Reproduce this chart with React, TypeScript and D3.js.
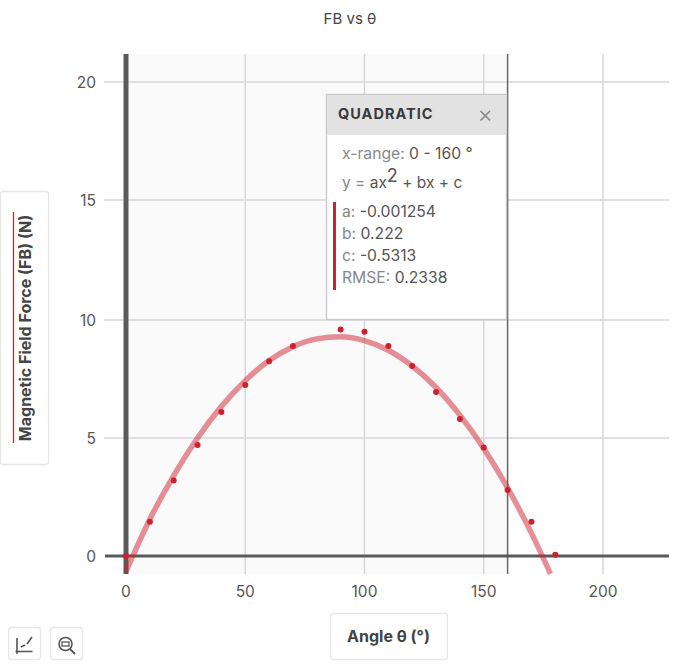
import React from "react";
import * as d3 from "d3";

const FONT = "Inter, 'Noto Sans', sans-serif";
const W = 700, H = 665;
const xTicks = [0, 50, 100, 150, 200];
const yTicks = [0, 5, 10, 15, 20];
const pointX = [0, 10, 20, 30, 40, 50, 60, 70, 90, 100, 110, 120, 130, 140, 150, 160, 170, 180];
const pointY = [0, 1.45, 3.2, 4.7, 6.1, 7.25, 8.25, 8.9, 9.6, 9.5, 8.9, 8.05, 6.95, 5.8, 4.6, 2.8, 1.45, 0.05];
const fitX = [0, 10, 20, 30, 40, 50, 60, 70, 80, 90, 100, 110, 120, 130, 140, 150, 160, 170, 178];
const fitY = [-0.65, 1.56, 3.41, 5.0, 6.34, 7.43, 8.28, 8.87, 9.2, 9.29, 9.13, 8.72, 8.05, 7.14, 5.97, 4.56, 2.89, 0.97, -0.76];
const rangeX = [0, 160];
const panelLines = [
  ["a: ", "-0.001254"],
  ["b: ", "0.222"],
  ["c: ", "-0.5313"],
  ["RMSE: ", "0.2338"],
];

const x = d3.scaleLinear().domain([0, 200]).range([126, 603]);
const y = d3.scaleLinear().domain([0, 5, 10, 15, 20]).range([556, 438, 320, 200, 82]);
const line = d3.line<number>().x((d) => x(d)).y((_, i) => y(fitY[i])).curve(d3.curveMonotoneX);

const PR = 669, PT = 54, PB = 574;
const GRID = "#d6d6d6", AXIS = "#5a5a5a", TXT = "#555", RED = "#cf2030";

export default function App() {
  return (
    <svg width={W} height={H} style={{ position: "absolute", left: 0, top: 0, fontFamily: FONT }}>
      <rect width={W} height={H} fill="#fff" />
      <text x={350} y={24} textAnchor="middle" fontSize={15} fill="#444">FB vs θ</text>

      <rect x={x(rangeX[0])} y={PT} width={x(rangeX[1]) - x(rangeX[0])} height={PB - PT} fill="#fafafa" />
      {xTicks.slice(1).map((t) => (
        <line key={t} x1={x(t)} x2={x(t)} y1={PT} y2={PB} stroke={GRID} strokeWidth={1.4} />
      ))}
      {yTicks.slice(1).map((t) => (
        <line key={t} x1={104} x2={PR} y1={y(t)} y2={y(t)} stroke={GRID} strokeWidth={1.4} />
      ))}
      <line x1={x(rangeX[1])} x2={x(rangeX[1])} y1={PT} y2={PB} stroke="#666" strokeWidth={1.5} />
      <line x1={105} x2={PR} y1={y(0)} y2={y(0)} stroke={AXIS} strokeWidth={3} />
      <line x1={x(0)} x2={x(0)} y1={PT} y2={PB} stroke={AXIS} strokeWidth={5} />

      {xTicks.map((t) => (
        <text key={t} x={x(t)} y={597} textAnchor="middle" fontSize={15.5} fill={TXT}>{t}</text>
      ))}
      {yTicks.map((t) => (
        <text key={t} x={96} y={y(t) + 5.5} textAnchor="end" fontSize={15.5} fill={TXT}>{t}</text>
      ))}

      <path d={line(fitX) ?? ""} fill="none" stroke={RED} strokeOpacity={0.5} strokeWidth={5.5} />
      {pointX.map((p, i) => (
        <circle key={p} cx={x(p)} cy={y(pointY[i])} r={3} fill={RED} />
      ))}

      {/* regression panel */}
      <rect x={326.5} y={94.5} width={180} height={225} fill="#fff" stroke="#c9c9c9" strokeWidth={1.4} />
      <rect x={327} y={95} width={179.5} height={40} fill="#e2e2e2" />
      <text x={338} y={119} fontSize={14.5} fontWeight={700} letterSpacing={1} fill="#3a3a3a">QUADRATIC</text>
      <path d="M480.5 111 L490 120.5 M490 111 L480.5 120.5" stroke="#888" strokeWidth={1.7} />
      <text x={342} y={159} fontSize={15.7} fill="#888">x-range: <tspan fill="#555">0 - 160 °</tspan></text>
      <text x={342} y={188} fontSize={15.5} fill="#888">y = <tspan fill="#555">ax</tspan><tspan fill="#555" dy={-6} fontSize={18}>2</tspan><tspan fill="#555" dy={6}> + bx + c</tspan></text>
      <line x1={334.5} x2={334.5} y1={202} y2={290} stroke={RED} strokeWidth={3} />
      {panelLines.map(([k, v], i) => (
        <text key={k} x={342} y={217 + i * 22} fontSize={15.7} fill="#888">{k}<tspan fill="#555">{v}</tspan></text>
      ))}

      {/* y-axis label box */}
      <rect x={0.5} y={191.5} width={48} height={273} rx={3} fill="#fff" stroke="#e6e6e6" strokeWidth={1.3} />
      <line x1={13.5} x2={13.5} y1={212} y2={443} stroke={RED} strokeWidth={1.3} />
      <text transform="translate(30.5,328) rotate(-90)" textAnchor="middle" fontSize={16} fontWeight={700} fill="#444">Magnetic Field Force (FB) (N)</text>

      {/* x-axis label box */}
      <rect x={330.5} y={613.5} width={117} height={46} rx={3} fill="#fff" stroke="#e6e6e6" strokeWidth={1.3} />
      <text x={388.5} y={641.5} textAnchor="middle" fontSize={16} fontWeight={700} fill="#444">Angle θ (°)</text>

      {/* toolbar buttons */}
      <rect x={8.5} y={627.5} width={32} height={32} rx={3} fill="#fff" stroke="#e6e6e6" strokeWidth={1.3} />
      <path d="M17 638 V654 M15.5 651.5 H32.5" stroke="#555" strokeWidth={1.6} fill="none" />
      <path d="M21 647 L25 645 M27 644 L32 637" stroke="#555" strokeWidth={1.6} fill="none" />
      <rect x={50.5} y={627.5} width={32} height={32} rx={3} fill="#fff" stroke="#e6e6e6" strokeWidth={1.3} />
      <circle cx={65.5} cy={644} r={6.5} fill="none" stroke="#555" strokeWidth={1.6} />
      <rect x={62} y={642} width={7} height={4} fill="none" stroke="#555" strokeWidth={1.3} />
      <path d="M70 649 L75 654" stroke="#555" strokeWidth={1.8} />
    </svg>
  );
}
